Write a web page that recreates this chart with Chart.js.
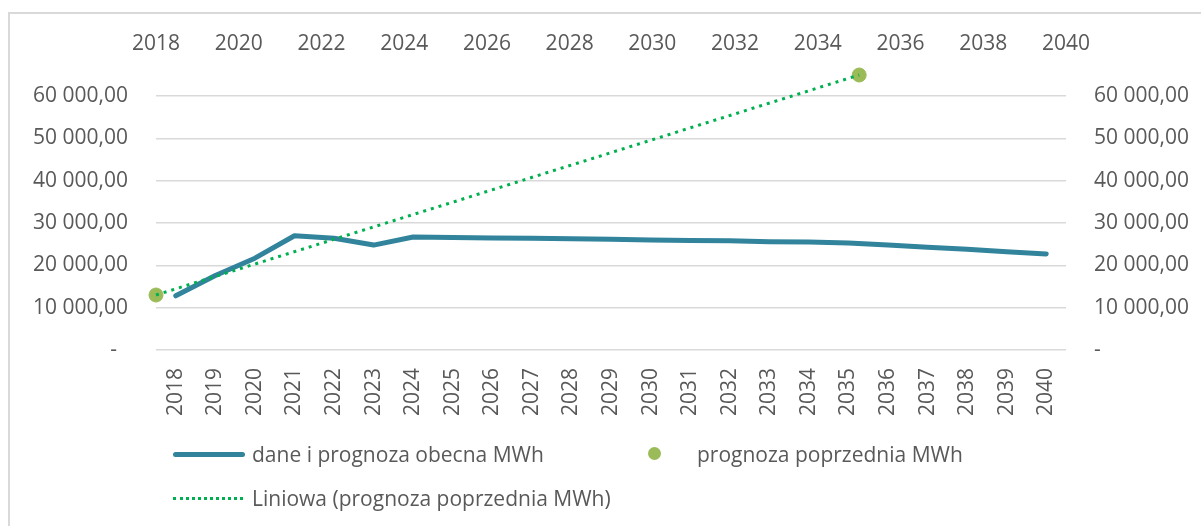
<!DOCTYPE html>
<html>
<head>
<meta charset="utf-8">
<script src="https://cdn.jsdelivr.net/npm/chart.js@4"></script>
<style>
  body { margin: 0; background: #fff; overflow: hidden; font-family: "Open Sans", sans-serif; }
  #frame { position: absolute; left: 8px; top: 12px; width: 1300px; height: 600px; border: 2px solid #d9d9d9; box-sizing: border-box; }
  #wrap { position: absolute; left: 0; top: 0; width: 1201px; height: 526px; }
  .leg { position: absolute; color: #595959; font-size: 21px; line-height: 24px; white-space: nowrap; }
  .sample-line { position: absolute; width: 72px; height: 5px; border-radius: 3px; background: #31849b; }
  .sample-dot { position: absolute; width: 13px; height: 13px; border-radius: 50%; background: #9bbb59; }
  .sample-dots { position: absolute; width: 70px; border-top: 3px dotted #00b050; }
</style>
</head>
<body>
<div id="frame"></div>
<div id="wrap"><canvas id="chart" width="1201" height="526"></canvas></div>

<div class="sample-line" style="left:173px; top:452px;"></div>
<div class="leg" style="left:252px; top:442px;">dane i prognoza obecna MWh</div>
<div class="sample-dot" style="left:648px; top:447px;"></div>
<div class="leg" style="left:697px; top:442px;">prognoza poprzednia MWh</div>
<div class="sample-dots" style="left:173px; top:497px;"></div>
<div class="leg" style="left:252px; top:486px;">Liniowa (prognoza poprzednia MWh)</div>

<script>
// lata na osi kategorii (dół)
const years = ['2018', '2019', '2020', '2021', '2022', '2023', '2024', '2025', '2026', '2027', '2028', '2029',
  '2030', '2031', '2032', '2033', '2034', '2035', '2036', '2037', '2038', '2039', '2040'];
// dane i prognoza obecna MWh
const currentValues = [12800, 17600, 21700, 27000, 26400, 24800, 26700, 26600, 26500, 26400, 26300, 26200,
  26000, 25900, 25800, 25600, 25500, 25300, 24800, 24300, 23800, 23200, 22700];
// prognoza poprzednia MWh (oś górna, liczbowa)
const previousYears = [2018, 2035];
const previousValues = [13000, 65000];
// oś górna
const topAxisMin = 2018;
const topAxisMax = 2040;
const topAxisStep = 2;
// oś wartości
const valueMax = 65000;
const valueTicks = [0, 10000, 20000, 30000, 40000, 50000, 60000];

const textColor = '#595959';
const tickFont = { family: 'Open Sans', size: 21 };

// linia trendu liniowego dla prognozy poprzedniej
function linearTrend(xs, ys) {
  const n = xs.length;
  const mx = xs.reduce((a, b) => a + b, 0) / n;
  const my = ys.reduce((a, b) => a + b, 0) / n;
  let num = 0, den = 0;
  for (let i = 0; i < n; i++) {
    num += (xs[i] - mx) * (ys[i] - my);
    den += (xs[i] - mx) * (xs[i] - mx);
  }
  const slope = num / den;
  const first = xs[0], last = xs[n - 1];
  return [
    { x: first, y: my + slope * (first - mx) },
    { x: last, y: my + slope * (last - mx) }
  ];
}

function formatValue(v) {
  if (v === 0) return '-  ';
  return String(v).replace(/\B(?=(\d{3})+(?!\d))/g, ' ') + ',00';
}

// tylko pełne dziesiątki tysięcy, bez ticka na 65 000
const fixedTicks = (scale) => {
  scale.ticks = valueTicks.map(v => ({ value: v }));
};

const ctx = document.getElementById('chart').getContext('2d');
new Chart(ctx, {
  type: 'line',
  data: {
    labels: years,
    datasets: [
      {
        label: 'Liniowa (prognoza poprzednia MWh)',
        data: linearTrend(previousYears, previousValues),
        xAxisID: 'x2',
        yAxisID: 'y',
        borderColor: '#00b050',
        borderWidth: 3,
        borderDash: [3, 5],
        pointRadius: 0,
        fill: false,
        clip: false,
        order: 0
      },
      {
        label: 'prognoza poprzednia MWh',
        data: previousYears.map((x, i) => ({ x: x, y: previousValues[i] })),
        xAxisID: 'x2',
        yAxisID: 'y',
        showLine: false,
        pointRadius: 7,
        pointBackgroundColor: '#9bbb59',
        pointBorderColor: '#9bbb59',
        clip: false,
        order: 1
      },
      {
        label: 'dane i prognoza obecna MWh',
        data: currentValues,
        xAxisID: 'x',
        yAxisID: 'y',
        borderColor: '#31849b',
        borderWidth: 5,
        borderCapStyle: 'round',
        borderJoinStyle: 'round',
        pointRadius: 0,
        tension: 0,
        clip: false,
        order: 2
      }
    ]
  },
  options: {
    responsive: false,
    animation: false,
    layout: { padding: { left: 0, right: 0, top: 0, bottom: 96 } },
    plugins: { legend: { display: false }, tooltip: { enabled: false } },
    scales: {
      x: {
        type: 'category',
        position: 'bottom',
        offset: true,
        grid: { display: false },
        border: { display: false },
        ticks: { color: textColor, font: tickFont, minRotation: 90, maxRotation: 90, padding: 10, autoSkip: false },
        afterFit: (s) => { s.height = 80; }
      },
      x2: {
        type: 'linear',
        position: 'top',
        min: topAxisMin,
        max: topAxisMax,
        grid: { display: false },
        border: { display: false },
        ticks: { color: textColor, font: tickFont, stepSize: topAxisStep, padding: 10, callback: (v) => String(v) },
        afterFit: (s) => { s.height = 75; }
      },
      y: {
        position: 'left',
        min: 0,
        max: valueMax,
        grid: { color: '#d9d9d9', lineWidth: 1.5, drawTicks: false },
        border: { display: false },
        ticks: { color: textColor, font: tickFont, padding: 28, autoSkip: false, callback: formatValue },
        afterBuildTicks: fixedTicks,
        afterFit: (s) => { s.width = 156; }
      },
      y2: {
        position: 'right',
        min: 0,
        max: valueMax,
        grid: { display: false, drawTicks: false },
        border: { display: false },
        ticks: { color: textColor, font: tickFont, padding: 28, autoSkip: false, callback: formatValue },
        afterBuildTicks: fixedTicks,
        afterFit: (s) => { s.width = 135; }
      }
    }
  }
});
</script>
</body>
</html>
